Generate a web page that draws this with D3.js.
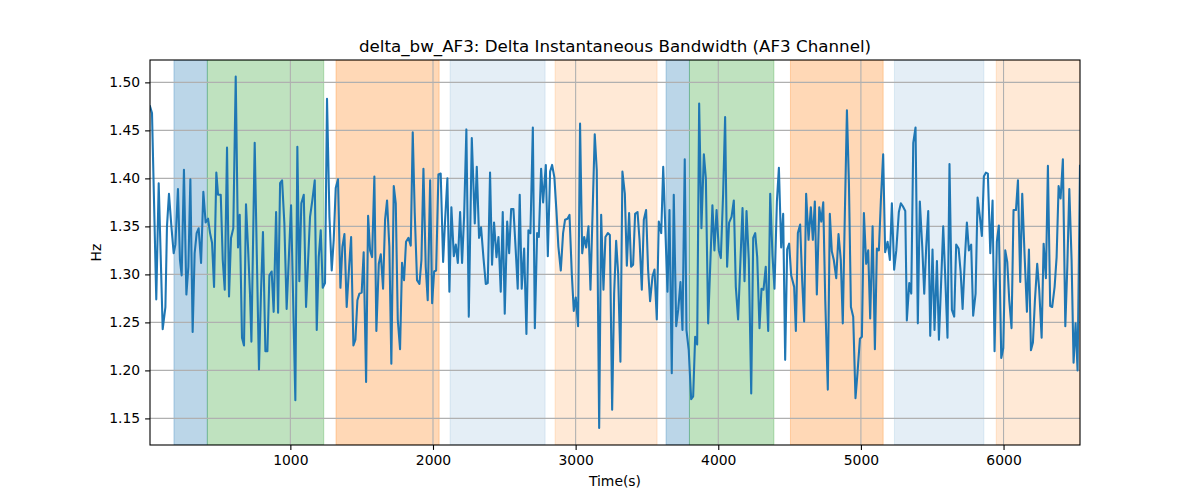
<!DOCTYPE html>
<html>
<head>
<meta charset="utf-8">
<script src="https://cdn.jsdelivr.net/npm/d3@7"></script>
<style>
  body { margin: 0; background: #fff; }
  text { font-family: "DejaVu Sans", sans-serif; }
</style>
</head>
<body>
<svg id="chart" width="1200" height="500"></svg>
<script>
const times = [16,30,60,77,105,124,135,149,166,182,194,212,226,238,254,271,285,299,315,329,343,357,374,390,406,423,437,451,465,481,493,512,526,540,556,570,584,600,617,633,645,661,675,689,703,717,727,750,780,
794,808,825,839,853,869,883,900,914,928,942,958,974,1005,1035,1049,1063,1077,1094,1110,1138,1154,1171,1185,1199,1213,1227,1243,1257,1274,1290,1304,1318,1334,1351,1365,1379,1395,1412,1426,1442,1456,1470,1484,1500,1514,1531,
1545,1559,1573,1589,1603,1620,1634,1650,1664,1678,1694,1708,1725,1739,1753,1769,1783,1797,1811,1828,1844,1858,1872,1888,1905,1919,1933,1949,1963,1980,1994,2008,2022,2038,2054,2071,2085,2101,2115,2129,2146,2160,2174,2190,2204,2218,2234,2251,2272,
2293,2307,2323,2337,2354,2370,2384,2400,2414,2428,2445,2459,2475,2489,2503,2520,2534,2548,2564,2580,2594,2608,2622,2639,2655,2669,2683,2700,2714,2730,2742,2758,2772,2791,2805,2821,2835,2851,2865,2879,2896,2912,2926,2943,2957,2973,2987,3001,3017,3031,
3046,3060,3074,3090,3104,3134,3148,3165,3179,3195,3209,3226,3240,3256,3270,3284,3298,3314,3328,3345,3359,3375,3389,3403,3417,3434,3448,3464,3478,3494,3508,3522,3539,3553,3569,3583,3600,3614,3644,3658,3674,3688,3705,3719,3735,3749,3765,
3777,3793,3810,3824,3838,3852,3866,3882,3899,3913,3929,3959,3973,3988,4004,4018,4034,4048,4062,4076,4093,4109,4123,4139,4170,4184,4198,4214,4231,4245,4259,4273,4289,4303,4317,4333,4350,4364,4380,4394,4411,4425,4441,4455,4469,4483,4497,4511,
4532,4544,4558,4574,4588,4602,4616,4633,4649,4663,4677,4691,4708,4722,4736,4750,4768,4782,4796,4810,4827,4843,4859,4873,4887,4902,4916,4930,4946,4962,4976,4993,5007,5021,5037,5051,5065,5082,5098,5112,5126,5140,5156,5170,5187,5203,5217,5233,5248,5266,5280,
5294,5311,5322,5339,5353,5367,5383,5399,5413,5430,5444,5458,5472,5486,5502,5516,5533,5547,5563,5577,5591,5607,5621,5638,5654,5668,5685,5699,5713,5729,5743,5757,5773,5787,5804,5818,5834,5848,5862,5876,5890,5907,5923,5937,5953,5967,5984,5998,6012,6026,
6040,6056,6070,6087,6101,6117,6131,6147,6164,6178,6192,6206,6220,6236,6250,6267,6281,6297,6311,6327,6341,6358,6372,6386,6400,6416,6433,6447,6461,6477,6491,6505,6519,6536];

const values = [1.475,1.468,1.274,1.395,1.243,1.266,1.350,1.384,1.350,1.322,1.331,1.389,1.315,1.299,1.409,1.279,1.308,1.399,1.240,1.322,1.343,1.348,1.312,1.386,1.354,1.358,1.343,1.333,1.287,1.406,1.383,1.383,1.315,1.284,1.432,1.277,1.338,1.348,1.506,1.328,1.362,1.234,1.226,1.373,1.329,1.280,1.230,1.437,1.201,
1.280,1.344,1.220,1.220,1.299,1.303,1.261,1.365,1.260,1.395,1.398,1.353,1.264,1.372,1.169,1.433,1.293,1.374,1.383,1.266,1.360,1.377,1.398,1.242,1.318,1.346,1.286,1.291,1.483,1.360,1.304,1.336,1.390,1.399,1.286,1.329,1.342,1.266,1.308,1.339,1.226,1.232,1.273,1.280,1.281,1.323,1.188,
1.361,1.325,1.318,1.402,1.241,1.311,1.321,1.285,1.357,1.377,1.329,1.207,1.392,1.374,1.253,1.222,1.312,1.294,1.334,1.338,1.330,1.448,1.364,1.294,1.290,1.315,1.410,1.308,1.273,1.398,1.270,1.303,1.304,1.404,1.405,1.313,1.357,1.400,1.282,1.370,1.319,1.331,1.312,1.365,1.312,1.360,1.451,1.256,1.442,
1.353,1.412,1.338,1.349,1.317,1.290,1.291,1.406,1.310,1.354,1.318,1.339,1.282,1.365,1.259,1.355,1.322,1.368,1.368,1.325,1.285,1.383,1.285,1.327,1.238,1.346,1.343,1.453,1.244,1.343,1.339,1.410,1.375,1.414,1.319,1.407,1.414,1.401,1.367,1.329,1.304,1.343,1.357,1.358,1.362,1.301,1.262,1.276,1.246,1.457,
1.322,1.339,1.328,1.350,1.284,1.446,1.409,1.140,1.362,1.284,1.339,1.343,1.341,1.159,1.280,1.335,1.301,1.209,1.407,1.384,1.309,1.364,1.308,1.310,1.363,1.365,1.336,1.284,1.357,1.367,1.305,1.272,1.298,1.305,1.253,1.355,1.343,1.412,1.282,1.367,1.197,1.383,1.246,1.263,1.292,1.242,1.420,
1.242,1.221,1.170,1.173,1.235,1.227,1.478,1.348,1.425,1.400,1.249,1.372,1.325,1.367,1.325,1.317,1.384,1.464,1.308,1.354,1.360,1.377,1.287,1.253,1.369,1.293,1.366,1.315,1.176,1.338,1.343,1.318,1.244,1.285,1.284,1.308,1.241,1.384,1.320,1.285,1.376,1.411,1.328,1.363,1.211,1.326,1.332,1.299,
1.287,1.241,1.343,1.352,1.294,1.251,1.384,1.336,1.370,1.336,1.376,1.279,1.370,1.355,1.375,1.273,1.180,1.363,1.324,1.315,1.296,1.342,1.315,1.249,1.360,1.471,1.395,1.266,1.256,1.171,1.197,1.233,1.235,1.364,1.311,1.325,1.254,1.350,1.222,1.327,1.325,1.377,1.425,1.323,1.334,1.315,1.374,1.305,1.325,1.365,1.374,
1.371,1.366,1.252,1.291,1.280,1.437,1.453,1.249,1.376,1.329,1.280,1.329,1.366,1.236,1.326,1.242,1.314,1.232,1.294,1.350,1.298,1.234,1.415,1.263,1.256,1.331,1.327,1.303,1.264,1.317,1.354,1.325,1.331,1.257,1.280,1.380,1.360,1.340,1.402,1.406,1.405,1.322,1.377,1.220,1.334,1.351,1.213,1.223,1.325,1.313,
1.273,1.244,1.367,1.367,1.398,1.292,1.384,1.322,1.261,1.326,1.221,1.229,1.273,1.311,1.284,1.234,1.332,1.296,1.413,1.267,1.266,1.287,1.318,1.392,1.379,1.420,1.246,1.308,1.389,1.315,1.208,1.249,1.200,1.413];

// shaded phases
const spanStarts = [184, 418, 1320, 2120, 2856, 3634, 3798, 4506, 5235, 5949];
const spanEnds   = [418, 1234, 2043, 2786, 3571, 3798, 4390, 5156, 5862, 6536];
const spanColors = ["#1f77b4", "#2ca02c", "#ff7f0e", "#1f77b4", "#ff7f0e", "#1f77b4", "#2ca02c", "#ff7f0e", "#1f77b4", "#ff7f0e"];
const spanAlphas = [0.3, 0.3, 0.3, 0.12, 0.17, 0.3, 0.3, 0.3, 0.12, 0.17];

const xTicks = [1000, 2000, 3000, 4000, 5000, 6000];
const yTicks = [1.15, 1.20, 1.25, 1.30, 1.35, 1.40, 1.45, 1.50];
const xDomain = [16, 6536];
const yDomain = [1.1223, 1.5233];

const titleText = "delta_bw_AF3: Delta Instantaneous Bandwidth (AF3 Channel)";
const xLabel = "Time(s)";
const yLabel = "Hz";

const m = {left: 150, right: 1080, top: 60, bottom: 445};
const svg = d3.select("#chart");
const x = d3.scaleLinear().domain(xDomain).range([m.left, m.right]);
const y = d3.scaleLinear().domain(yDomain).range([m.bottom, m.top]);

svg.append("defs").append("clipPath").attr("id", "clip")
  .append("rect").attr("x", m.left).attr("y", m.top)
  .attr("width", m.right - m.left).attr("height", m.bottom - m.top);

// spans
const spans = spanStarts.map((s, i) => ({s, e: spanEnds[i], c: spanColors[i], a: spanAlphas[i]}));
svg.append("g").attr("clip-path", "url(#clip)").selectAll("rect").data(spans).join("rect")
  .attr("x", d => x(d.s)).attr("width", d => x(d.e) - x(d.s))
  .attr("y", m.top).attr("height", m.bottom - m.top)
  .attr("fill", d => d.c).attr("fill-opacity", d => d.a)
  .attr("stroke", d => d.c).attr("stroke-opacity", d => d.a).attr("stroke-width", 1);

// grid
const grid = svg.append("g");
grid.selectAll("line.gx").data(xTicks).join("line")
  .attr("x1", d => x(d)).attr("x2", d => x(d)).attr("y1", m.top).attr("y2", m.bottom)
  .attr("stroke", "#b0b0b0").attr("stroke-width", 1.1);
grid.selectAll("line.gy").data(yTicks).join("line")
  .attr("y1", d => y(d)).attr("y2", d => y(d)).attr("x1", m.left).attr("x2", m.right)
  .attr("stroke", "#b0b0b0").attr("stroke-width", 1.1);

// line
const pts = times.map((t, i) => [t, values[i]]);
svg.append("path").datum(pts).attr("clip-path", "url(#clip)")
  .attr("fill", "none").attr("stroke", "#1f77b4").attr("stroke-width", 2.08)
  .attr("stroke-linejoin", "round").attr("stroke-linecap", "square")
  .attr("d", d3.line().x(d => x(d[0])).y(d => y(d[1])));

// axes
const xAxis = svg.append("g").attr("transform", `translate(0,${m.bottom})`)
  .call(d3.axisBottom(x).tickValues(xTicks).tickFormat(d3.format("d")).tickSize(4.9).tickPadding(4.9));
const yAxis = svg.append("g").attr("transform", `translate(${m.left},0)`)
  .call(d3.axisLeft(y).tickValues(yTicks).tickFormat(d3.format(".2f")).tickSize(4.9).tickPadding(4.9));
[xAxis, yAxis].forEach(a => {
  a.select(".domain").remove();
  a.selectAll("line").attr("stroke", "#000").attr("stroke-width", 1.1);
  a.selectAll("text").attr("font-size", 13.9).attr("fill", "#000").attr("font-family", "DejaVu Sans, sans-serif");
});

// frame
svg.append("rect").attr("x", m.left).attr("y", m.top)
  .attr("width", m.right - m.left).attr("height", m.bottom - m.top)
  .attr("fill", "none").attr("stroke", "#000").attr("stroke-width", 1.1);

svg.append("text").attr("x", (m.left + m.right) / 2).attr("y", 52)
  .attr("text-anchor", "middle").attr("font-size", 16.7).text(titleText);
svg.append("text").attr("x", (m.left + m.right) / 2).attr("y", 486)
  .attr("text-anchor", "middle").attr("font-size", 13.9).text(xLabel);
svg.append("text").attr("transform", `translate(101,${(m.top + m.bottom) / 2}) rotate(-90)`)
  .attr("text-anchor", "middle").attr("font-size", 13.9).text(yLabel);
</script>
</body>
</html>
